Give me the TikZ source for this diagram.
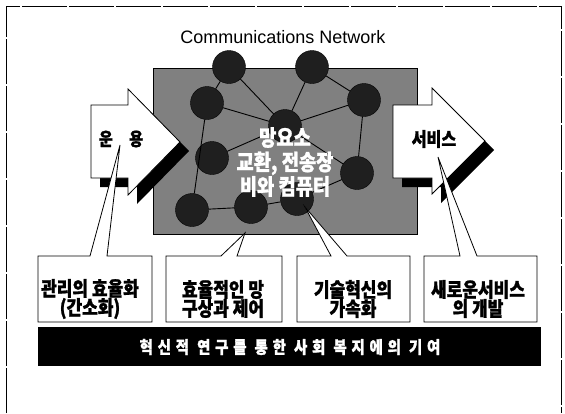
\documentclass[tikz,border=0pt]{standalone}
\usepackage{fontspec}
\setmainfont{Liberation Sans}
\newfontfamily\krn{Noto Sans CJK KR}[FakeStretch=0.85,FakeBold=1.2]
\begin{document}
\begin{tikzpicture}[x=1pt,y=-1pt,
  net/.style={circle,fill=black!88,draw=black,minimum size=33pt,inner sep=0pt},
  link/.style={line width=0.9pt},
  callout/.style={fill=white,draw=black,line width=0.8pt,line join=miter},
  boxtext/.style={font=\krn\bfseries\fontsize{20}{19}\selectfont,align=center,inner sep=0pt},
  arrowbody/.style={fill=white,draw=black,line width=0.8pt},
  arrowshadow/.style={fill=black}]
\useasboundingbox (0,0) rectangle (565,413);
% frame
\draw[line width=0.8pt,dash pattern=on 45pt off 2pt] (6,413) -- (6,6) -- (561,6) -- (561,413);
% title
\node[font=\fontsize{18}{20}\selectfont,inner sep=0pt] (title) at (283,37) {Communications Network};
% gray area
\fill[black!50,draw=black,line width=0.6pt] (153,68) rectangle (417,234);
% network nodes
\node[net] (T1) at (229,67) {};
\node[net] (T2) at (312,67) {};
\node[net] (L1) at (207,103) {};
\node[net] (R1) at (364,100) {};
\node[net] (Cc) at (285,126) {};
\node[net] (L2) at (212,158) {};
\node[net] (R2) at (357,173) {};
\node[net] (B1) at (192,210) {};
\node[net] (B2) at (251,207) {};
\node[net] (B3) at (297,199) {};
\draw[link] (T1) -- (L1);
\draw[link] (T1) -- (Cc);
\draw[link] (T2) -- (Cc);
\draw[link] (T2) -- (R1);
\draw[link] (L1) -- (Cc);
\draw[link] (Cc) -- (R1);
\draw[link] (R1) -- (R2);
\draw[link] (L1) -- (B1);
\draw[link] (L2) -- (Cc);
\draw[link] (Cc) -- (R2);
\draw[link] (B1) -- (B2);
\draw[link] (B2) -- (B3);
\draw[link] (B3) -- (R2);
% center text
\node[font=\krn\bfseries\fontsize{22}{24.5}\selectfont,text=white,align=center,inner sep=0pt] (center) at (285,162) {망요소\\교환, 전송장\\비와 컴퓨터};
% left arrow
\fill[arrowshadow,shift={(9,9)}] (91,105) -- (128,105) -- (128,89) -- (180,142) -- (128,195) -- (128,178) -- (91,178) -- cycle;
\path[arrowbody] (91,105) -- (128,105) -- (128,89) -- (180,142) -- (128,195) -- (128,178) -- (91,178) -- cycle;
% right arrow
\fill[arrowshadow,shift={(9,9)}] (393,105) -- (432,105) -- (432,88) -- (485,141) -- (432,194) -- (432,178) -- (393,178) -- cycle;
\path[arrowbody] (393,105) -- (432,105) -- (432,88) -- (485,141) -- (432,194) -- (432,178) -- (393,178) -- cycle;
\node[font=\krn\bfseries\fontsize{18}{18}\selectfont,inner sep=0pt] (op) at (121,139) {운\hspace{0.9em}용};
\node[font=\krn\bfseries\fontsize{19}{18}\selectfont,inner sep=0pt] (svc) at (434,139) {서비스};
% callouts
\path[callout] (38,256) -- (90,256) -- (120,145) -- (107,256) -- (152,256) -- (152,322) -- (38,322) -- cycle;
\path[callout] (166,256) -- (221,256) -- (245,233) -- (237,256) -- (282,256) -- (282,322) -- (166,322) -- cycle;
\path[callout] (297,256) -- (331,256) -- (305,207) -- (347,256) -- (410,256) -- (410,322) -- (297,322) -- cycle;
\path[callout] (424,256) -- (460,256) -- (438,157) -- (477,256) -- (537,256) -- (537,322) -- (424,322) -- cycle;
\node[boxtext] (b1) at (90,299) {관리의 효율화\\(간소화)};
\node[boxtext] (b2) at (223,299) {효율적인 망\\구상과 제어};
\node[boxtext] (b3) at (353,299) {기술혁신의\\가속화};
\node[boxtext] (b4) at (478,299) {새로운서비스\\의 개발};
% bottom bar
\fill[black] (38,327) rectangle (541,366);
\node[font=\krn\bfseries\fontsize{17}{18}\selectfont\addfontfeature{LetterSpace=28},text=white,inner sep=0pt] (bar) at (290,347) {혁신적 연구를 통한 사회 복지에의 기여};
\end{tikzpicture}
\end{document}
